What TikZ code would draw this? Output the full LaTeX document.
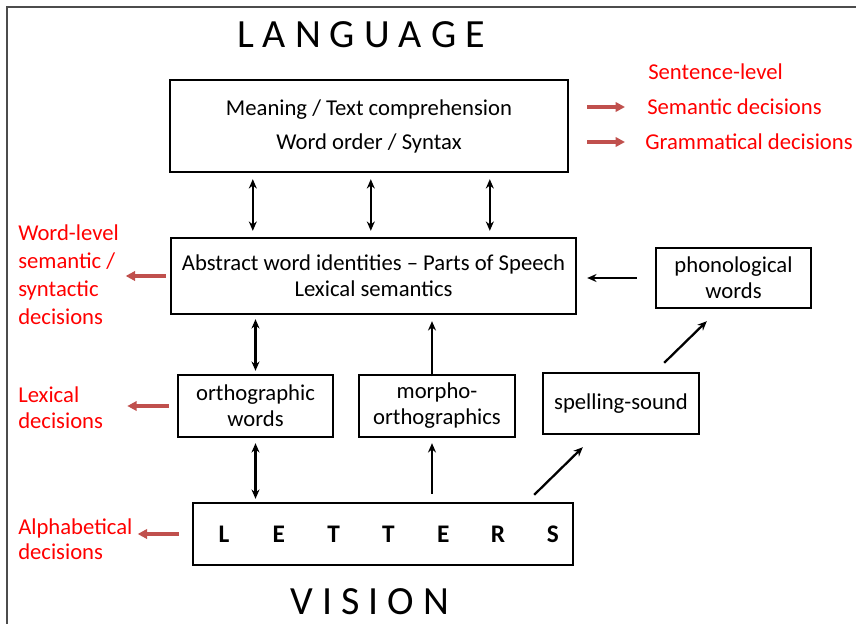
\documentclass[tikz,border=0pt]{standalone}
\usepackage{fontspec}
\setmainfont{Carlito}
\usetikzlibrary{arrows.meta}
\definecolor{arrowred}{RGB}{192,80,77}

\begin{document}
\begin{tikzpicture}[x=0.75pt, y=-0.75pt,
    box/.style={draw, line width=1.8pt, align=center, inner sep=0pt,
      font=\fontsize{17}{19.5}\selectfont},
    arr/.style={-{Stealth[length=7pt,width=6pt]}, line width=1.7pt},
    dbl/.style={{Stealth[length=7pt,width=6pt]}-{Stealth[length=7pt,width=6pt]}, line width=1.7pt},
    redarr/.style={-{Triangle[length=7pt,width=7pt]}, line width=2.4pt, arrowred},
    redlbl/.style={text=red, align=left, inner sep=0pt, anchor=west,
      font=\fontsize{17}{19.5}\selectfont},
    title/.style={font=\fontsize{30}{31}\selectfont},
  ]
  \useasboundingbox (0,0) rectangle (856,624);

  % frame
  \draw[gray!60!black, line width=1pt] (7,624) -- (7,7) -- (856,7);

  % titles
  \node[title] (language) at (361,35) {L A N G U A G E};
  \node[title] (vision) at (370,602) {V I S I O N};

  % boxes
  \node[box, minimum width=298.5pt, minimum height=69pt,
    font=\fontsize{17}{25.5}\selectfont] (top) at (369,126)
    {Meaning / Text comprehension\\Word order / Syntax};
  \node[box, minimum width=303.75pt, minimum height=57pt] (mid) at (373.5,276)
    {Abstract word identities – Parts of Speech\\Lexical semantics};
  \node[box, minimum width=116.25pt, minimum height=45pt] (phon) at (733.5,278)
    {phonological\\words};
  \node[box, minimum width=116.25pt, minimum height=46.5pt] (ortho) at (255.5,406)
    {orthographic\\words};
  \node[box, minimum width=117pt, minimum height=46.5pt] (morpho) at (437,406)
    {morpho-\\orthographics};
  \node[box, minimum width=117pt, minimum height=45.75pt] (spell) at (621,403.5)
    {spelling-sound};
  \node[box, minimum width=285pt, minimum height=46.5pt] (letters) at (383,534) {};
  \foreach \c [count=\i] in {L,E,T,T,E,R,S} {
    \node[font=\bfseries\fontsize{19}{20}\selectfont] (let\i) at (169.2+54.8*\i,534) {\c};
  }

  % red labels
  \node[redlbl] (sentence) at (648,72) {Sentence-level};
  \node[redlbl] (semantic) at (647,107) {Semantic decisions};
  \node[redlbl] (grammar) at (645,142) {Grammatical decisions};
  \node[redlbl, font=\fontsize{17}{21}\selectfont] (wordlevel) at (18,275)
    {Word-level\\semantic /\\syntactic\\decisions};
  \node[redlbl] (lexical) at (18,408) {Lexical\\decisions};
  \node[redlbl, font=\fontsize{17}{18.75}\selectfont] (alpha) at (18,539.5)
    {Alphabetical\\decisions};

  % red arrows
  \draw[redarr, shorten <=13.5pt, shorten >=16.5pt] (top.east |- semantic.west) -- (semantic.west);
  \draw[redarr, shorten <=13.5pt, shorten >=15pt] (top.east |- grammar.west) -- (grammar.west);
  \draw[redarr, shorten <=3pt, shorten >=5pt] (mid.west) -- (mid.west -| wordlevel.east);
  \draw[redarr, shorten <=6pt, shorten >=18pt] (ortho.west) -- (ortho.west -| lexical.east);
  \draw[redarr, shorten <=9.75pt, shorten >=3.75pt] (letters.west) -- (letters.west -| alpha.east);

  % black arrows
  \foreach \dx in {84,202,321} {
    \draw[dbl, shorten <=4.5pt, shorten >=4.5pt] ([xshift=\dx*0.75pt]top.south west)
      -- ([xshift=\dx*0.75pt]top.south west |- mid.north);
  }
  \draw[dbl, shorten <=2.25pt, shorten >=3pt] (ortho.north) -- (ortho.north |- mid.south);
  \draw[arr, shorten <=-2pt, shorten >=4.5pt] ([xshift=-3.75pt]morpho.north)
    -- ([xshift=-3.75pt]morpho.north |- mid.south);
  \draw[dbl, shorten <=2.25pt, shorten >=3.75pt] (letters.north -| ortho.south) -- (ortho.south);
  \draw[arr, shorten <=6pt, shorten >=3.75pt] ([xshift=-3.75pt]letters.north -| morpho.south)
    -- ([xshift=-3.75pt]morpho.south);
  \draw[arr] ([shift={(-30pt,5.25pt)}]letters.north east) -- ([shift={(30.75pt,-9pt)}]spell.south west);
  \draw[arr] ([shift={(-27pt,6.75pt)}]spell.north east) -- ([shift={(39pt,-9pt)}]phon.south west);
  \draw[arr, shorten <=13.5pt, shorten >=7.5pt] (phon.west) -- (phon.west -| mid.east);
\end{tikzpicture}
\end{document}
